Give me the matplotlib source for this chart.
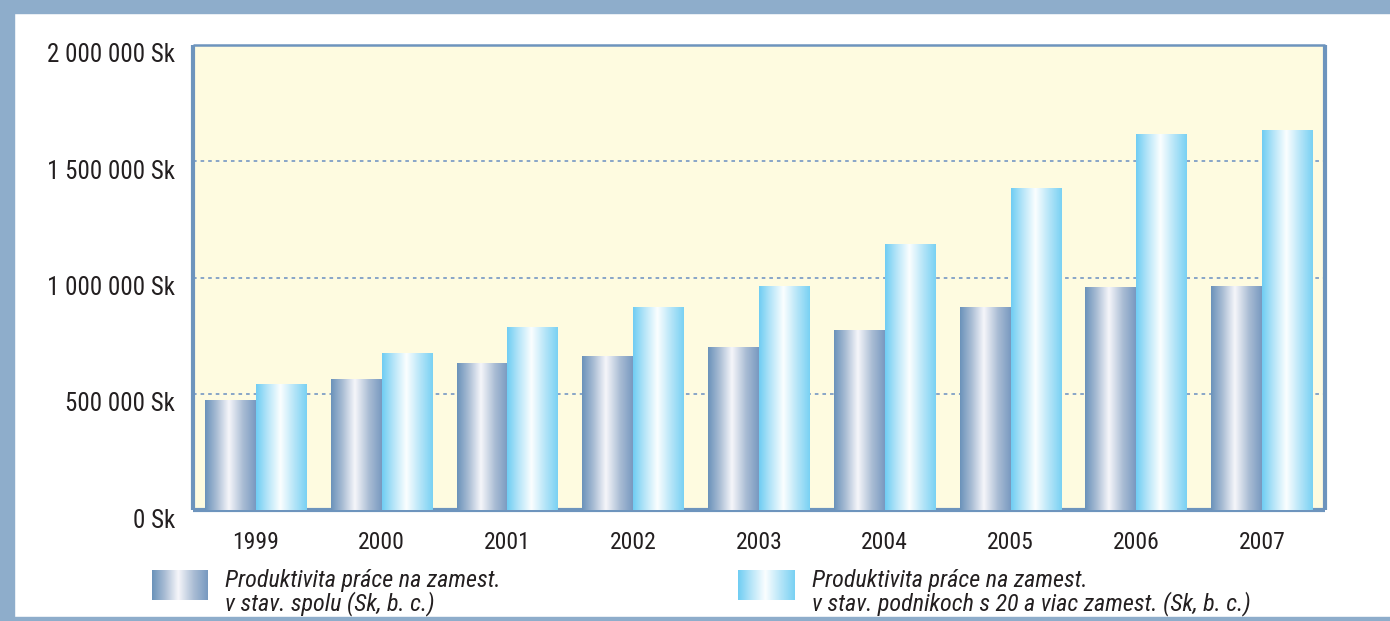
import numpy as np
import matplotlib
matplotlib.use("Agg")
import matplotlib.pyplot as plt
from matplotlib.colors import LinearSegmentedColormap
from matplotlib.patches import Rectangle
from matplotlib.ticker import FuncFormatter
from matplotlib.transforms import ScaledTranslation

years = ["1999", "2000", "2001", "2002", "2003", "2004", "2005", "2006", "2007"]
spolu = [469000, 563000, 628000, 662000, 701000, 770000, 873000, 955000, 963000]
podniky20 = [538000, 675000, 787000, 873000, 963000, 1144000, 1381000, 1617000, 1634000]
legend_lines = [["Produktivita práce na zamest.", "v stav. spolu (Sk, b. c.)"],
                ["Produktivita práce na zamest.", "v stav. podnikoch s 20 a viac zamest. (Sk, b. c.)"]]
yticks = [0, 500000, 1000000, 1500000, 2000000]

plt.rcParams['font.family'] = ['Roboto Condensed', 'Archivo Narrow', 'Liberation Sans', 'DejaVu Sans']
txtc = "#231f20"

cmap_dark = LinearSegmentedColormap.from_list(
    "dk", [(0, "#6a92ba"), (0.22, "#a7bbd3"), (0.47, "#f6f6fa"), (0.75, "#a9bcd4"), (1, "#7899c0")])
cmap_light = LinearSegmentedColormap.from_list(
    "lt", [(0, "#6fcdf3"), (0.22, "#b3e4f8"), (0.48, "#fbfeff"), (0.75, "#b5e5f8"), (1, "#79d1f3")])
grad = np.linspace(0, 1, 256).reshape(1, -1)

fig = plt.figure(figsize=(13.9, 6.21), dpi=100)
fig.patch.set_facecolor("white")

border = "#8eadcb"
fig.add_artist(Rectangle((0, 1 - 13 / 621), 1, 13 / 621, transform=fig.transFigure, color=border, zorder=0))
fig.add_artist(Rectangle((0, 0), 14 / 1390, 1, transform=fig.transFigure, color=border, zorder=0))
fig.add_artist(Rectangle((0, 0), 1, 4 / 621, transform=fig.transFigure, color=border, zorder=0))

ax = fig.add_axes([193 / 1390, 1 - 510 / 621, (1325 - 193) / 1390, (510 - 45) / 621])
ax.set_facecolor("#fefbe0")

x = np.arange(len(years))
w = 0.405
for i in range(len(years)):
    ax.imshow(grad, cmap=cmap_dark, extent=[x[i] - w, x[i], 0, spolu[i]], aspect='auto', zorder=3,
              interpolation='bilinear')
    ax.imshow(grad, cmap=cmap_light, extent=[x[i], x[i] + w, 0, podniky20[i]], aspect='auto', zorder=3,
              interpolation='bilinear')

ax.set_xlim(-0.5, len(years) - 0.5)
ax.set_ylim(0, 2000000)
ax.set_xticks(x)
ax.set_xticklabels(years)
ax.set_yticks(yticks)
ax.yaxis.set_major_formatter(FuncFormatter(lambda v, p: f"{int(v):,} Sk".replace(",", " ")))
ax.tick_params(axis='both', length=0, colors=txtc)
ax.tick_params(axis='y', pad=13, labelsize=18)
ax.tick_params(axis='x', pad=15, labelsize=17)
off = ScaledTranslation(0, -8 / 100, fig.dpi_scale_trans)
for lbl in ax.get_yticklabels():
    lbl.set_transform(lbl.get_transform() + off)

for yv in yticks[1:-1]:
    ax.axhline(yv, color="#7f9fc6", lw=1.3, ls=(0, (2, 2.2)), zorder=2)

sc = "#6d94bd"
for s in ["left", "bottom", "right"]:
    ax.spines[s].set_color(sc)
    ax.spines[s].set_linewidth(3)
    ax.spines[s].set_capstyle('butt')
ax.spines["top"].set_color(sc)
ax.spines["top"].set_linewidth(1.8)
ax.spines["top"].set_capstyle('butt')

# legend
for (px, tx, cmap, lines) in [(152, 225, cmap_dark, legend_lines[0]), (738, 812, cmap_light, legend_lines[1])]:
    lax = fig.add_axes([px / 1390, 1 - 600 / 621, 56 / 1390, 30 / 621])
    lax.imshow(grad, cmap=cmap, aspect='auto', interpolation='bilinear')
    lax.set_axis_off()
    for k, (ln, by) in enumerate(zip(lines, [587, 610])):
        fig.text(tx / 1390, 1 - by / 621, ln, ha='left', va='baseline', fontsize=17.4, style='italic',
                 color=txtc)

fig.savefig("out.png", dpi=100)
